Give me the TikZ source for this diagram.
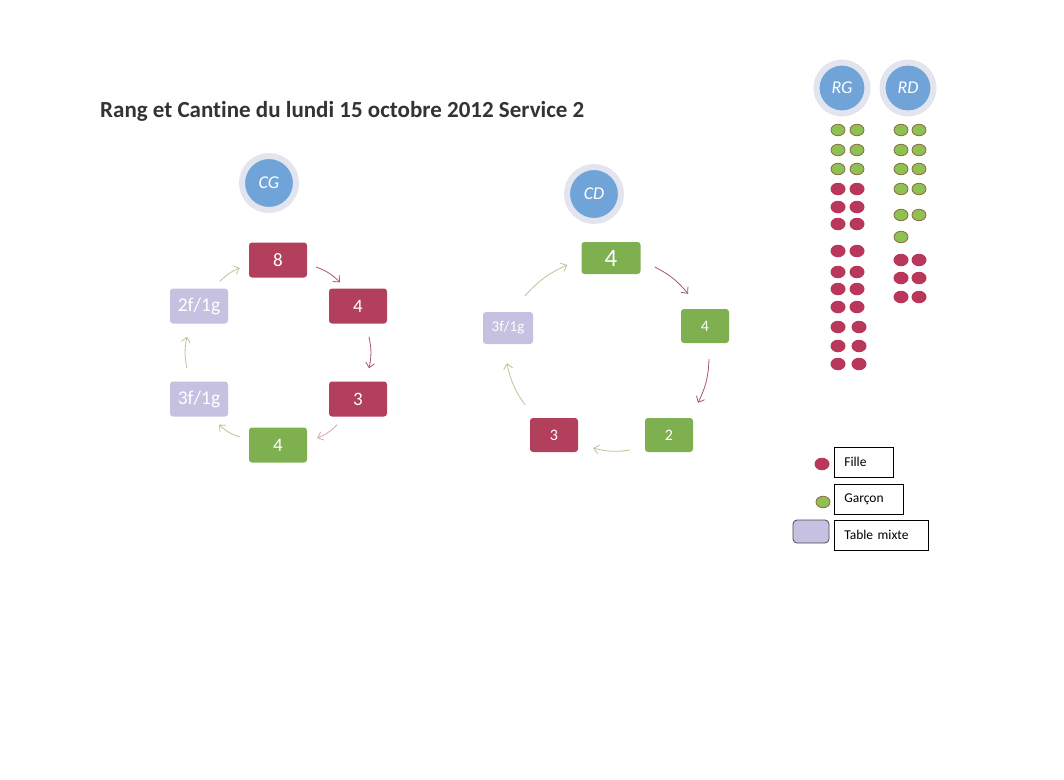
\documentclass[tikz,border=0pt]{standalone}
\usepackage{fontspec}
\setmainfont{Carlito}[Ligatures=NoCommon]
\usepackage{xcolor}
\usetikzlibrary{arrows.meta,shapes.geometric}

\definecolor{boxred}{HTML}{B2405C}
\definecolor{boxgreen}{HTML}{7FB04F}
\definecolor{boxmix}{HTML}{C6C1E1}
\definecolor{ringblue}{HTML}{70A4D8}
\definecolor{ringgrey}{HTML}{E2E5EE}
\definecolor{dotred}{HTML}{B9375A}
\definecolor{dotgreen}{HTML}{8FC152}
\definecolor{dotrim}{HTML}{8A6A40}
\definecolor{arrred}{HTML}{A85670}
\definecolor{arrpink}{HTML}{D6A6A6}
\definecolor{arrgreen}{HTML}{B3C996}
\definecolor{titlegrey}{HTML}{333333}

\tikzset{
  tbl/.style={rounded corners=3pt, text=white, minimum width=58pt, minimum height=35pt,
    inner sep=0pt, font=\fontsize{19}{21}\selectfont},
  redtbl/.style={tbl, fill=boxred},
  greentbl/.style={tbl, fill=boxgreen},
  mixtbl/.style={tbl, fill=boxmix},
  zone/.style={circle, fill=ringblue, draw=ringgrey, line width=6pt, minimum size=54pt,
    inner sep=0pt, text=white, font=\fontsize{18}{20}\selectfont\itshape},
  girl/.style={ellipse, fill=dotred, minimum width=15pt, minimum height=12.5pt, inner sep=0pt},
  boy/.style={ellipse, fill=dotgreen, draw=dotrim, line width=0.8pt, minimum width=14pt,
    minimum height=11.5pt, inner sep=0pt},
  flow/.style={line width=0.8pt, -{Straight Barb[length=5pt,width=9pt]}, bend left=12},
  legbox/.style={draw, line width=0.6pt, anchor=north west, minimum height=30pt,
    inner xsep=10pt, align=left, font=\fontsize{13.5}{15}\selectfont},
}

\begin{document}
\begin{tikzpicture}[x=1pt,y=-1pt]

\useasboundingbox[fill=white] (0,0) rectangle (1064,779);

\node[anchor=base west, inner sep=0pt, text=titlegrey, font=\bfseries\fontsize{23}{27}\selectfont]
  (title) at (100,117) {Rang et Cantine du lundi 15 octobre 2012 Service 2};

% --- CANTINE GAUCHE ---
\node[zone] (cg) at (269,183) {CG};

\node[redtbl] (c8) at (278,260) {8};
\node[redtbl] (c4) at (358,306) {4};
\node[redtbl] (c3) at (358,399) {3};
\node[greentbl] (c4g) at (278,445) {4};
\node[mixtbl, font=\fontsize{19.5}{21}\selectfont] (cm3) at (199,399) {3f/1g};
\node[mixtbl, font=\fontsize{19.5}{21}\selectfont] (cm2) at (199,306) {2f/1g};

\draw[flow, arrred] ([shift={(9,7)}]c8.east) to ([shift={(-18,-6)}]c4.north);
\draw[flow, arrred] ([shift={(11,13)}]c4.south) to ([shift={(11,-13)}]c3.north);
\draw[flow, arrpink] ([shift={(-21,8)}]c3.south) to ([shift={(10,-7)}]c4g.east);
\draw[flow, arrgreen] ([shift={(-9,-8)}]c4g.west) to ([shift={(20,8)}]cm3.south);
\draw[flow, arrgreen] ([shift={(-12,-13)}]cm3.north) to ([shift={(-12,13)}]cm2.south);
\draw[flow, arrgreen] ([shift={(21,-7)}]cm2.north) to ([shift={(-9,8)}]c8.west);

% --- CANTINE DROITE ---
\node[zone] (cd) at (594,194) {CD};

\node[greentbl, minimum width=59pt, minimum height=32pt, font=\fontsize{25}{27}\selectfont]
  (d4t) at (611,258) {4};
\node[greentbl, minimum width=48pt, minimum height=34pt, font=\fontsize{16}{18}\selectfont]
  (d4r) at (705,326) {4};
\node[greentbl, minimum width=48pt, minimum height=34pt, font=\fontsize{16}{18}\selectfont]
  (d2) at (669,435) {2};
\node[redtbl, minimum width=48pt, minimum height=34pt, font=\fontsize{16}{18}\selectfont]
  (d3) at (554,435) {3};
\node[mixtbl, minimum width=50pt, minimum height=32pt, font=\fontsize{15}{17}\selectfont]
  (dm) at (508,328) {3f/1g};

\draw[flow, arrred] ([shift={(14,9)}]d4t.east) to ([shift={(-17,-15)}]d4r.north);
\draw[flow, arrred] ([shift={(4,16)}]d4r.south) to ([shift={(29,-15)}]d2.north);
\draw[flow, arrgreen] ([shift={(-15,15)}]d2.west) to ([shift={(15,13)}]d3.east);
\draw[flow, arrgreen] ([shift={(-29,-13)}]d3.north) to ([shift={(-1,19)}]dm.south);
\draw[flow, arrgreen] ([shift={(17,-16)}]dm.north) to ([shift={(-14,7)}]d4t.west);

% --- RANGS ---
\node[zone, minimum size=51pt] (rg) at (842,88) {RG};
\node[zone, minimum size=51pt] (rd) at (908,88) {RD};

\foreach \y [count=\i] in {130,150,169} {
  \node[boy] (rg-b\i-l) at (838,\y) {};
  \node[boy] (rg-b\i-r) at (857,\y) {};
}
\foreach \y/\dx [count=\i] in {189/0,207/0,224/0,251/0,272/0,289/0,307/0,327/2,346/2,364/2} {
  \node[girl] (rg-f\i-l) at (838,\y) {};
  \node[girl] (rg-f\i-r) at (857+\dx,\y) {};
}

\foreach \y [count=\i] in {130,150,169,189,215} {
  \node[boy] (rd-b\i-l) at (901,\y) {};
  \node[boy] (rd-b\i-r) at (919,\y) {};
}
\node[boy] (rd-b6-l) at (901,237) {};
\foreach \y [count=\i] in {260,278,297} {
  \node[girl] (rd-f\i-l) at (901,\y) {};
  \node[girl] (rd-f\i-r) at (919,\y) {};
}

% --- LEGENDE ---
\node[girl] (leg-f) at (822,464) {};
\node[legbox, text width=39pt] (leg-ftxt) at (834,447) {Fille};
\node[boy] (leg-g) at (823,502) {};
\node[legbox, text width=49pt] (leg-gtxt) at (834,484) {Garçon};
\node[rounded corners=4pt, fill=boxmix, draw=black!70, line width=0.8pt,
  minimum width=36pt, minimum height=23pt] (leg-m) at (811,531.5) {};
\node[legbox, text width=74pt] (leg-mtxt) at (834,520) {Table mixte};

\end{tikzpicture}
\end{document}
